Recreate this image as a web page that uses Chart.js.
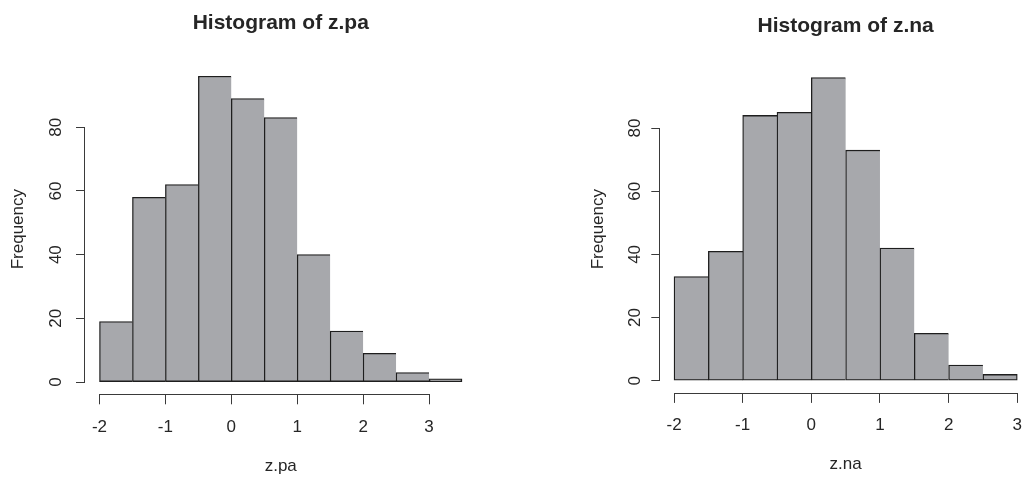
<!DOCTYPE html>
<html>
<head>
<meta charset="utf-8">
<script src="https://cdn.jsdelivr.net/npm/chart.js@4.4.1/dist/chart.umd.min.js"></script>
<style>
  html, body { margin: 0; padding: 0; background: #fff; overflow: hidden; }
  canvas { position: absolute; top: 0; }
  #paChart { left: 0; }
  #naChart { left: 511px; }
</style>
</head>
<body>
<canvas id="paChart" width="511" height="477"></canvas>
<canvas id="naChart" width="540" height="477"></canvas>
<script>
// Bin edges and counts for each histogram
const paBreaks = [-2, -1.5, -1, -0.5, 0, 0.5, 1, 1.5, 2, 2.5, 3, 3.5];
const paCounts = [19, 58, 62, 96, 89, 83, 40, 16, 9, 3, 1];
const naBreaks = [-2, -1.5, -1, -0.5, 0, 0.5, 1, 1.5, 2, 2.5, 3];
const naCounts = [33, 41, 84, 85, 96, 73, 42, 15, 5, 2];

// Axis tick values
const xTicks = [-2, -1, 0, 1, 2, 3];
const yTicks = [0, 20, 40, 60, 80];

const fontFamily = '"Liberation Sans", Arial, Helvetica, sans-serif';
const textColor = "#262626";
const axisColor = "#3a3a3a";
const barFill = "#a7a8ac";
const barEdge = "#1e1e1e";
const edge = 1.3;

// Draws axis lines that only run between the first and last tick, like base R plots
const tickSpanAxes = {
    id: "tickSpanAxes",
    afterDraw(chart) {
        const { ctx, chartArea, scales: { x, y } } = chart;
        const xa = x.getPixelForValue(xTicks[0]);
        const xb = x.getPixelForValue(xTicks[xTicks.length - 1]);
        const ya = y.getPixelForValue(yTicks[0]);
        const yb = y.getPixelForValue(yTicks[yTicks.length - 1]);
        const bottom = Math.round(chartArea.bottom) + 0.5;
        const left = Math.round(chartArea.left) - 0.5;
        ctx.save();
        ctx.strokeStyle = axisColor;
        ctx.lineWidth = 1;
        ctx.beginPath();
        ctx.moveTo(xa, bottom);
        ctx.lineTo(xb, bottom);
        ctx.moveTo(left, ya);
        ctx.lineTo(left, yb);
        ctx.stroke();
        ctx.restore();
    },
};

function drawHistogram(id, title, xLabel, breaks, counts, box) {
    const ctx = document.getElementById(id).getContext("2d");
    const last = counts.length - 1;
    new Chart(ctx, {
        type: "bar",
        data: {
            datasets: [{
                data: counts.map((c, i) => ({ x: (breaks[i] + breaks[i + 1]) / 2, y: c })),
                backgroundColor: barFill,
                borderColor: barEdge,
                borderWidth: (c) => ({ top: edge, left: edge, bottom: edge, right: c.dataIndex === last ? edge : 0 }),
                borderSkipped: false,
                barPercentage: 1,
                categoryPercentage: 1,
            }],
        },
        plugins: [tickSpanAxes],
        options: {
            responsive: false,
            animation: false,
            devicePixelRatio: 1,
            layout: { padding: { left: 0, right: box.right, top: 0, bottom: 0 } },
            plugins: {
                legend: { display: false },
                tooltip: { enabled: false },
                title: {
                    display: true,
                    text: title,
                    fullSize: false,
                    color: textColor,
                    font: { family: fontFamily, size: 21, weight: "bold", lineHeight: 1.2 },
                    padding: { top: box.titleTop, bottom: box.titleBottom },
                },
            },
            scales: {
                x: {
                    type: "linear",
                    offset: false,
                    min: box.xMin,
                    max: box.xMax,
                    afterBuildTicks: (s) => { s.ticks = xTicks.map((v) => ({ value: v })); },
                    afterFit: (s) => { s.height = box.xHeight; },
                    border: { display: false },
                    grid: { offset: false, drawOnChartArea: false, tickLength: 10, color: axisColor },
                    ticks: {
                        autoSkip: false,
                        maxRotation: 0,
                        padding: box.xPad,
                        color: textColor,
                        font: { family: fontFamily, size: 17 },
                    },
                    title: {
                        display: true,
                        text: xLabel,
                        color: textColor,
                        font: { family: fontFamily, size: 17, lineHeight: 1.2 },
                        padding: { top: 0, bottom: box.xTitlePad },
                    },
                },
                y: {
                    type: "linear",
                    min: -3.84,
                    max: 99.84,
                    afterBuildTicks: (s) => { s.ticks = yTicks.map((v) => ({ value: v })); },
                    afterFit: (s) => { s.width = box.yWidth; },
                    border: { display: false },
                    grid: { drawOnChartArea: false, tickLength: 9, color: axisColor },
                    ticks: {
                        autoSkip: false,
                        minRotation: 90,
                        maxRotation: 90,
                        crossAlign: "center",
                        padding: box.yPad,
                        color: textColor,
                        font: { family: fontFamily, size: 17 },
                    },
                    title: {
                        display: true,
                        text: "Frequency",
                        color: textColor,
                        font: { family: fontFamily, size: 17, lineHeight: 1.2 },
                        padding: { top: box.yTitlePad, bottom: 0 },
                    },
                },
            },
        },
    });
}

drawHistogram("paChart", "Histogram of z.pa", "z.pa", paBreaks, paCounts, {
    right: 34.5, xMin: -2.22, xMax: 3.72,
    titleTop: 11, titleBottom: 27.8,
    xHeight: 82.7, xPad: 12.8, xTitlePad: 0,
    yWidth: 85, yPad: 9.8, yTitlePad: 8,
});

drawHistogram("naChart", "Histogram of z.na", "z.na", naBreaks, naCounts, {
    right: 20, xMin: -2.2, xMax: 3.2,
    titleTop: 13.7, titleBottom: 26.5,
    xHeight: 84.1, xPad: 12.2, xTitlePad: 2,
    yWidth: 149.3, yPad: 6.1, yTitlePad: 77,
});
</script>
</body>
</html>
